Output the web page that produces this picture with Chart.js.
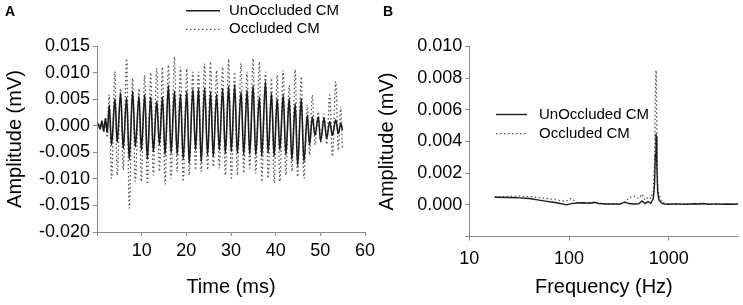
<!DOCTYPE html>
<html>
<head>
<meta charset="utf-8">
<script src="https://cdn.jsdelivr.net/npm/chart.js@4/dist/chart.umd.min.js"></script>
<style>
 body { margin: 0; background: #fff; width: 743px; height: 305px; overflow: hidden; position: relative; }
 canvas { position: absolute; top: 0; }
</style>
</head>
<body>
<canvas id="chartA" width="390" height="305" style="left:0"></canvas>
<canvas id="chartB" width="371" height="305" style="left:372px"></canvas>
<script>
// A: time domain
var seriesNames = ['UnOccluded CM', 'Occluded CM'];
var timeMs = [0.3, 0.7, 1.1, 1.5, 1.9, 2.3,
  2.73, 3.26, 4.01, 4.53, 5.28, 5.88, 6.63, 7.23, 7.98, 8.58, 9.40, 9.93, 10.68, 11.27, 12.02, 12.62, 13.37, 13.97, 14.65, 15.24,
  15.99, 16.59, 17.34, 17.94, 18.69, 19.29, 20.11, 20.64, 21.46, 22.06, 22.73, 23.33, 24.08, 24.76, 25.43, 26.03, 26.78, 27.38, 28.13, 28.73, 29.48, 30.07,
  30.82, 31.42, 32.25, 32.85, 33.60, 34.19, 34.94, 35.54, 36.37, 36.89, 37.72, 38.31, 39.06, 39.66, 40.34, 40.94, 41.68, 42.28, 43.03, 43.63, 44.38,
  44.91, 45.73, 46.33, 47.08, 47.60, 48.20, 48.80, 49.55, 50.07, 50.82, 51.42, 52.10, 52.70, 53.45, 54.04, 54.57, 54.94];
var unoccludedA = [0.0004, -0.0006, 0.0009, -0.0010, 0.0013, -0.0013,
  0.0039, -0.0036, 0.0051, -0.0031, 0.0062, -0.0043, 0.0053, -0.0064, 0.0065, -0.0040, 0.0056, -0.0046, 0.0058, -0.0063, 0.0054, -0.0049, 0.0046, -0.0036, 0.0054, -0.0055,
  0.0076, -0.0052, 0.0065, -0.0055, 0.0059, -0.0064, 0.0065, -0.0071, 0.0069, -0.0046, 0.0070, -0.0068, 0.0071, -0.0055, 0.0064, -0.0058, 0.0059, -0.0046, 0.0070, -0.0052, 0.0074, -0.0049,
  0.0077, -0.0052, 0.0064, -0.0055, 0.0067, -0.0054, 0.0076, -0.0055, 0.0054, -0.0058, 0.0083, -0.0052, 0.0061, -0.0058, 0.0051, -0.0046, 0.0058, -0.0055, 0.0051, -0.0064, 0.0042,
  -0.0075, 0.0051, -0.0068, 0.0020, -0.0036, 0.0017, -0.0018, 0.0017, -0.0030, 0.0014, -0.0024, 0.0008, -0.0018, 0.0011, -0.0015, 0.0004, -0.0008];
var occludedA = [0.0003, -0.0006, 0.0008, -0.0012, 0.0016, -0.0022,
  0.0058, -0.0099, 0.0102, -0.0093, 0.0070, -0.0083, 0.0126, -0.0155, 0.0089, -0.0105, 0.0070, -0.0105, 0.0095, -0.0110, 0.0100, -0.0093, 0.0108, -0.0086, 0.0110, -0.0110,
  0.0114, -0.0099, 0.0129, -0.0086, 0.0110, -0.0105, 0.0107, -0.0093, 0.0101, -0.0083, 0.0101, -0.0086, 0.0117, -0.0083, 0.0120, -0.0077, 0.0104, -0.0080, 0.0110, -0.0093, 0.0125, -0.0102,
  0.0101, -0.0093, 0.0117, -0.0089, 0.0101, -0.0080, 0.0126, -0.0089, 0.0120, -0.0105, 0.0101, -0.0099, 0.0089, -0.0108, 0.0095, -0.0105, 0.0104, -0.0093, 0.0076, -0.0086, 0.0105,
  -0.0096, 0.0092, -0.0099, 0.0039, -0.0055, 0.0058, -0.0036, 0.0026, -0.0030, 0.0022, -0.0035, 0.0058, -0.0058, 0.0083, -0.0046, 0.0035, -0.0045];

// B: frequency domain
var freqHz = [18, 25, 32, 40, 50, 60, 70, 80, 90, 95, 105, 120, 140, 160, 180, 200, 240, 280, 330, 360, 400, 450, 500, 540, 580, 620, 660, 700, 720, 735, 745, 750, 760, 775, 800, 850, 900, 1000, 1200, 1500, 1800, 2000, 2200, 2500, 3000, 3500, 4000, 4500, 5000];
var unoccludedB = [0.00048, 0.00046, 0.00044, 0.00040, 0.00030, 0.00022, 0.00016, 0.00010, 0.00003, 0.00000, 0.00008, 0.00012, 0.00013, 0.00010, 0.00016, 0.00008, 0.00005, 0.00006, 0.00005, 0.00018, 0.00008, 0.00005, 0.00007, 0.00025, 0.00008, 0.00020, 0.00010, 0.00040, 0.00120, 0.00320, 0.00450, 0.00430, 0.00250, 0.00080, 0.00030, 0.00010, 0.00005, 0.00004, 0.00006, 0.00004, 0.00007, 0.00005, 0.00008, 0.00004, 0.00006, 0.00004, 0.00005, 0.00004, 0.00005];
var occludedB = [0.00050, 0.00052, 0.00055, 0.00052, 0.00046, 0.00040, 0.00035, 0.00028, 0.00022, 0.00025, 0.00040, 0.00015, 0.00012, 0.00014, 0.00012, 0.00010, 0.00005, 0.00006, 0.00008, 0.00012, 0.00045, 0.00055, 0.00040, 0.00068, 0.00030, 0.00050, 0.00040, 0.00080, 0.00250, 0.00700, 0.00850, 0.00840, 0.00500, 0.00110, 0.00060, 0.00020, 0.00010, 0.00006, 0.00005, 0.00005, 0.00006, 0.00005, 0.00007, 0.00005, 0.00005, 0.00004, 0.00005, 0.00004, 0.00005];
var freqTicks = [10, 100, 1000];

var fontFam = '"Liberation Sans", Arial, sans-serif';
var axisGrey = '#8a8a8a';

function toXY(xs, ys) {
  return xs.map(function (x, i) { return { x: x, y: ys[i] }; });
}

// legend + panel letter
var cmLegend = {
  id: 'cmLegend',
  afterDraw: function (chart, args, opts) {
    var ctx = chart.ctx;
    ctx.save();
    ctx.textBaseline = 'middle';
    ctx.fillStyle = '#000';
    ctx.font = '15px ' + fontFam;
    seriesNames.forEach(function (name, i) {
      var ds = chart.data.datasets[i];
      var y = opts.y + i * opts.gap;
      ctx.strokeStyle = ds.borderColor;
      ctx.lineWidth = ds.borderWidth;
      ctx.setLineDash(ds.borderDash || []);
      ctx.beginPath();
      ctx.moveTo(opts.x, y);
      ctx.lineTo(opts.x + opts.len, y);
      ctx.stroke();
      ctx.setLineDash([]);
      ctx.fillText(name, opts.textX, y);
    });
    ctx.font = 'bold 14px ' + fontFam;
    ctx.fillText(opts.letter, opts.letterX, 12);
    ctx.restore();
  }
};

function axisStyle() {
  return {
    grid: { drawOnChartArea: false, drawTicks: true, tickLength: 4, color: axisGrey },
    border: { color: axisGrey, width: 1 }
  };
}

// chart A
var ctx = document.getElementById('chartA').getContext('2d');
var chartA = new Chart(ctx, {
  type: 'line',
  data: {
    datasets: [{
      label: seriesNames[0],
      data: toXY(timeMs, unoccludedA),
      borderColor: '#1c1c1c',
      borderWidth: 1.6,
      cubicInterpolationMode: 'monotone',
      pointRadius: 0,
      fill: false
    }, {
      label: seriesNames[1],
      data: toXY(timeMs, occludedA),
      borderColor: '#555',
      borderWidth: 1.3,
      borderDash: [1.5, 2.5],
      cubicInterpolationMode: 'monotone',
      pointRadius: 0,
      fill: false
    }]
  },
  options: {
    responsive: false,
    animation: false,
    layout: { padding: { top: 46, right: 25, left: 0, bottom: 0 } },
    plugins: {
      legend: { display: false },
      tooltip: { enabled: false },
      cmLegend: { x: 186, len: 34, y: 10.7, gap: 18.6, textX: 229, letter: 'A', letterX: 5 }
    },
    scales: {
      x: Object.assign(axisStyle(), {
        type: 'linear', min: 0, max: 60,
        ticks: {
          stepSize: 10, padding: 4, maxRotation: 0, autoSkip: false, color: '#000',
          font: { size: 18, family: fontFam },
          callback: function (v) { return v === 0 ? '' : v; }
        },
        title: { display: true, text: 'Time (ms)', color: '#000', font: { size: 20, family: fontFam }, padding: { top: 0, bottom: 6 } },
        afterFit: function (s) { s.height = 73; }
      }),
      y: Object.assign(axisStyle(), {
        min: -0.02, max: 0.015,
        ticks: {
          stepSize: 0.005, padding: 3, autoSkip: false, color: '#000',
          font: { size: 18, family: fontFam },
          callback: function (v) { return v.toFixed(3); }
        },
        title: { display: true, text: 'Amplitude (mV)', color: '#000', font: { size: 20, family: fontFam }, padding: { top: 3, bottom: 0 } },
        afterFit: function (s) { s.width = 97; }
      })
    }
  },
  plugins: [cmLegend]
});

// chart B
var ctx = document.getElementById('chartB').getContext('2d');
var chartB = new Chart(ctx, {
  type: 'line',
  data: {
    datasets: [{
      label: seriesNames[0],
      data: toXY(freqHz, unoccludedB),
      borderColor: '#1c1c1c',
      borderWidth: 1.4,
      pointRadius: 0,
      fill: false
    }, {
      label: seriesNames[1],
      data: toXY(freqHz, occludedB),
      borderColor: '#555',
      borderWidth: 1.3,
      borderDash: [1.5, 2.5],
      pointRadius: 0,
      fill: false
    }]
  },
  options: {
    responsive: false,
    animation: false,
    layout: { padding: { top: 46.5, right: 4.6, left: 0, bottom: 0 } },
    plugins: {
      legend: { display: false },
      tooltip: { enabled: false },
      cmLegend: { x: 124, len: 31, y: 114.5, gap: 19.2, textX: 167, letter: 'B', letterX: 11 }
    },
    scales: {
      x: Object.assign(axisStyle(), {
        type: 'logarithmic', min: 10, max: 5000,
        afterBuildTicks: function (s) { s.ticks = freqTicks.map(function (v) { return { value: v }; }); },
        ticks: {
          padding: 8, maxRotation: 0, autoSkip: false, color: '#000',
          font: { size: 18, family: fontFam },
          callback: function (v) { return String(v); }
        },
        title: { display: true, text: 'Frequency (Hz)', color: '#000', font: { size: 20, family: fontFam }, padding: { top: 0, bottom: 6 } },
        afterFit: function (s) { s.height = 68.5; }
      }),
      y: Object.assign(axisStyle(), {
        min: -0.002, max: 0.010,
        ticks: {
          stepSize: 0.002, padding: 3, autoSkip: false, color: '#000',
          font: { size: 18, family: fontFam },
          callback: function (v) { return v < -1e-9 ? '' : v.toFixed(3); }
        },
        title: { display: true, text: 'Amplitude (mV)', color: '#000', font: { size: 20, family: fontFam }, padding: { top: 3, bottom: 0 } },
        afterFit: function (s) { s.width = 97.3; }
      })
    }
  },
  plugins: [cmLegend]
});
</script>
</body>
</html>
